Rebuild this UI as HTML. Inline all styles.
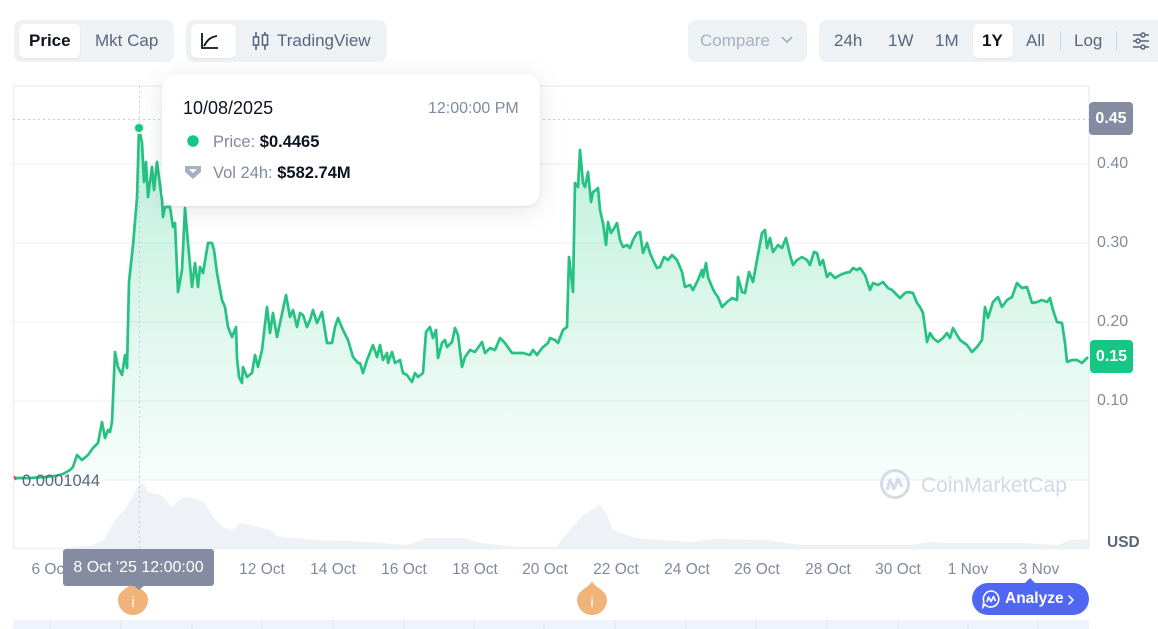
<!DOCTYPE html>
<html><head><meta charset="utf-8">
<style>
*{margin:0;padding:0;box-sizing:border-box}
body{width:1158px;height:629px;background:#fff;font-family:"Liberation Sans",sans-serif;position:relative;overflow:hidden;color:#0d1421}
.abs{position:absolute}
.grp{position:absolute;top:20px;height:42px;background:#eff2f5;border-radius:8px}
.btn{position:absolute;top:4px;height:34px;background:#fff;border-radius:6px;box-shadow:0 1px 2px rgba(0,0,0,0.06)}
.t{position:absolute;font-size:17px;line-height:18px;white-space:nowrap}
.gray{color:#58667e}
.yl{position:absolute;left:1097px;font-size:16px;color:#808a9d;line-height:18px}
.xl{position:absolute;top:561px;font-size:15.5px;color:#808a9d;line-height:18px;transform:translateX(-50%);white-space:nowrap}
</style></head><body>

<!-- toolbar group 1 -->
<div class="grp" style="left:14px;width:160px"></div>
<div class="btn" style="left:19px;top:24px;width:61px"></div>
<div class="t" style="left:29px;top:32px;font-weight:700;color:#0d1421">Price</div>
<div class="t gray" style="left:95px;top:32px">Mkt Cap</div>

<!-- toolbar group 2 -->
<div class="grp" style="left:186px;width:201px"></div>
<div class="btn" style="left:191px;top:24px;width:45px"></div>
<svg class="abs" style="left:199px;top:30px" width="22" height="22" viewBox="0 0 22 22">
<path d="M3 3 V18 H19" fill="none" stroke="#0d1421" stroke-width="1.8"/>
<path d="M5 16 C9 9 12 7 18 6" fill="none" stroke="#0d1421" stroke-width="1.8"/>
</svg>
<svg class="abs" style="left:252px;top:31px" width="18" height="20" viewBox="0 0 18 20">
<line x1="4" y1="1" x2="4" y2="19" stroke="#58667e" stroke-width="1.6"/>
<rect x="1.5" y="6" width="5" height="8" fill="#fff" stroke="#58667e" stroke-width="1.6"/>
<line x1="13" y1="1" x2="13" y2="19" stroke="#58667e" stroke-width="1.6"/>
<rect x="10.5" y="4" width="5" height="10" fill="#fff" stroke="#58667e" stroke-width="1.6"/>
</svg>
<div class="t gray" style="left:277px;top:32px">TradingView</div>

<!-- compare -->
<div class="grp" style="left:688px;width:119px"></div>
<div class="t" style="left:700px;top:32px;color:#a6b0c3">Compare</div>
<svg class="abs" style="left:780px;top:35px" width="14" height="10" viewBox="0 0 14 10"><path d="M2 2 L7 7 L12 2" fill="none" stroke="#a6b0c3" stroke-width="1.8"/></svg>

<!-- range group -->
<div class="grp" style="left:819px;width:345px"></div>
<div class="t gray" style="left:834px;top:32px">24h</div>
<div class="t gray" style="left:888px;top:32px">1W</div>
<div class="t gray" style="left:935px;top:32px">1M</div>
<div class="btn" style="left:973px;top:24px;width:40px"></div>
<div class="t" style="left:982px;top:32px;font-weight:700">1Y</div>
<div class="t gray" style="left:1026px;top:32px">All</div>
<div class="abs" style="left:1060px;top:31px;width:1px;height:20px;background:#cfd6e4"></div>
<div class="t gray" style="left:1074px;top:32px">Log</div>
<div class="abs" style="left:1116px;top:31px;width:1px;height:20px;background:#cfd6e4"></div>
<svg class="abs" style="left:1131px;top:31px" width="20" height="20" viewBox="0 0 20 20">
<g stroke="#58667e" stroke-width="1.5" fill="#eff2f5">
<line x1="2" y1="4" x2="18" y2="4"/><line x1="2" y1="10" x2="18" y2="10"/><line x1="2" y1="16" x2="18" y2="16"/>
<circle cx="12" cy="4" r="2"/><circle cx="7" cy="10" r="2"/><circle cx="12" cy="16" r="2"/>
</g></svg>

<!-- chart -->
<svg class="abs" style="left:0;top:0" width="1158" height="629" viewBox="0 0 1158 629">
<defs>
<linearGradient id="ag" x1="0" y1="0" x2="0" y2="1">
<stop offset="0" stop-color="#16c784" stop-opacity="0.28"/>
<stop offset="1" stop-color="#16c784" stop-opacity="0.03"/>
</linearGradient>
</defs>
<!-- frame -->
<line x1="13" y1="86" x2="1089" y2="86" stroke="#eceff4" stroke-width="1.5"/>
<line x1="13.5" y1="86" x2="13.5" y2="549" stroke="#eceff4" stroke-width="1.5"/>
<line x1="1089" y1="86" x2="1089" y2="549" stroke="#eceff4" stroke-width="1.5"/>
<line x1="13" y1="548.5" x2="1089" y2="548.5" stroke="#eceff4" stroke-width="1.5"/>
<!-- grid -->
<g stroke="#eff2f5" stroke-width="1.2">
<line x1="13" y1="164" x2="1089" y2="164"/>
<line x1="13" y1="243" x2="1089" y2="243"/>
<line x1="13" y1="322" x2="1089" y2="322"/>
<line x1="13" y1="401" x2="1089" y2="401"/>
<line x1="13" y1="480" x2="1089" y2="480"/>
</g>
<!-- volume -->
<polygon fill="#eef1f5" points="14,548 60,548 90,546 104,540 115,520 126,508 139,485 143,483 148,492 161,495 172,507 181,498 189,497 204,502 213,517 222,527 233,530 241,523 259,527 270,530 278,537 296,538 315,540 352,541 407,545 426,538 463,538 481,543 519,547 556,547 570,530 581,517 600,504 608,517 613,530 635,538 691,542 716,539 764,540 801,545 912,545 930,542 949,543 985,543 1022,543 1059,545 1070,540 1088,539 1088,548"/>
<!-- area -->
<polygon fill="url(#ag)" points="14,478 30,478 45,477 55,476 63,474 70,470 73,467 77,455 82,460 88,455 93,448 98,443 102,422 105,438 108,430 110,432 112,422 115,352 118,367 122,375 125,355 127,368 129,282 133,245 137,198 139,128 142,143 144,182 146,162 148,197 152,167 154,190 157,162 162,200 163,217 165,207 170,207 173,227 175,223 178,292 182,270 185,208 188,243 192,287 195,263 198,287 200,267 203,273 208,243 212,243 214,250 217,273 222,300 225,307 228,327 232,337 236,327 237,358 239,377 242,383 243,367 247,377 252,373 255,355 258,367 262,350 267,307 270,333 273,313 277,337 280,323 286,295 290,317 293,310 297,327 300,313 303,315 307,327 310,320 313,310 317,323 322,312 327,343 332,343 335,327 338,318 343,330 348,340 353,357 358,363 360,363 363,373 367,360 373,345 377,357 380,345 383,360 387,353 388,363 392,352 395,363 400,360 403,373 407,375 412,382 415,373 418,377 423,373 426,332 430,327 433,338 436,330 438,358 442,343 445,340 447,347 452,342 455,328 458,335 462,367 465,357 470,350 475,352 482,342 485,353 490,348 495,350 500,338 505,343 512,353 523,353 530,355 533,350 537,355 542,348 548,343 550,338 555,340 558,343 563,330 567,327 569,257 573,292 575,183 578,187 580,150 583,183 585,187 588,172 591,202 593,192 596,190 598,188 600,210 603,223 606,245 608,222 611,233 613,230 617,223 620,240 623,247 627,245 630,248 633,240 637,233 640,232 643,253 647,243 650,253 653,260 657,268 660,267 664,257 668,260 672,255 677,260 682,272 685,287 690,285 693,290 698,280 702,270 703,277 706,263 708,277 712,287 715,293 718,297 722,307 727,302 732,298 737,300 738,277 742,292 745,293 749,272 753,282 757,260 762,233 765,230 767,248 770,238 773,252 778,245 782,248 786,238 790,255 793,265 797,260 802,257 807,260 810,265 814,252 817,253 820,265 823,260 827,277 830,273 835,278 840,275 845,273 850,272 853,268 857,270 860,268 865,275 870,290 873,283 878,285 883,282 888,288 892,290 897,295 900,298 905,293 908,292 913,293 917,303 920,307 923,313 927,342 930,333 933,338 938,342 943,338 947,333 950,338 953,328 957,335 960,340 967,345 972,352 977,347 982,340 985,307 988,318 993,302 998,297 1002,307 1007,300 1012,297 1017,283 1022,288 1027,287 1032,303 1037,302 1042,300 1047,302 1050,298 1053,310 1057,322 1062,323 1065,343 1067,362 1072,360 1077,360 1082,363 1085,360 1088,357 1088,480 14,480"/>
<!-- crosshair -->
<line x1="13" y1="119.5" x2="1089" y2="119.5" stroke="#c6ccd8" stroke-width="1" stroke-dasharray="2,3"/>
<line x1="139.5" y1="86" x2="139.5" y2="549" stroke="#c6ccd8" stroke-width="1" stroke-dasharray="2,3"/>
<!-- watermark -->
<g>
<circle cx="895" cy="484" r="13.5" fill="none" stroke="#d5dbe6" stroke-width="3"/>
<path d="M887 490 L890 480 L894 489 L898 479 L902 487" fill="none" stroke="#d5dbe6" stroke-width="3" stroke-linejoin="round"/>
<text x="921" y="492" font-family="Liberation Sans, sans-serif" font-size="21" fill="#d3d9e4">CoinMarketCap</text>
</g>
<!-- line -->
<polyline fill="none" stroke="#26c281" stroke-width="2.7" stroke-linejoin="round" points="14,478 30,478 45,477 55,476 63,474 70,470 73,467 77,455 82,460 88,455 93,448 98,443 102,422 105,438 108,430 110,432 112,422 115,352 118,367 122,375 125,355 127,368 129,282 133,245 137,198 139,128 142,143 144,182 146,162 148,197 152,167 154,190 157,162 162,200 163,217 165,207 170,207 173,227 175,223 178,292 182,270 185,208 188,243 192,287 195,263 198,287 200,267 203,273 208,243 212,243 214,250 217,273 222,300 225,307 228,327 232,337 236,327 237,358 239,377 242,383 243,367 247,377 252,373 255,355 258,367 262,350 267,307 270,333 273,313 277,337 280,323 286,295 290,317 293,310 297,327 300,313 303,315 307,327 310,320 313,310 317,323 322,312 327,343 332,343 335,327 338,318 343,330 348,340 353,357 358,363 360,363 363,373 367,360 373,345 377,357 380,345 383,360 387,353 388,363 392,352 395,363 400,360 403,373 407,375 412,382 415,373 418,377 423,373 426,332 430,327 433,338 436,330 438,358 442,343 445,340 447,347 452,342 455,328 458,335 462,367 465,357 470,350 475,352 482,342 485,353 490,348 495,350 500,338 505,343 512,353 523,353 530,355 533,350 537,355 542,348 548,343 550,338 555,340 558,343 563,330 567,327 569,257 573,292 575,183 578,187 580,150 583,183 585,187 588,172 591,202 593,192 596,190 598,188 600,210 603,223 606,245 608,222 611,233 613,230 617,223 620,240 623,247 627,245 630,248 633,240 637,233 640,232 643,253 647,243 650,253 653,260 657,268 660,267 664,257 668,260 672,255 677,260 682,272 685,287 690,285 693,290 698,280 702,270 703,277 706,263 708,277 712,287 715,293 718,297 722,307 727,302 732,298 737,300 738,277 742,292 745,293 749,272 753,282 757,260 762,233 765,230 767,248 770,238 773,252 778,245 782,248 786,238 790,255 793,265 797,260 802,257 807,260 810,265 814,252 817,253 820,265 823,260 827,277 830,273 835,278 840,275 845,273 850,272 853,268 857,270 860,268 865,275 870,290 873,283 878,285 883,282 888,288 892,290 897,295 900,298 905,293 908,292 913,293 917,303 920,307 923,313 927,342 930,333 933,338 938,342 943,338 947,333 950,338 953,328 957,335 960,340 967,345 972,352 977,347 982,340 985,307 988,318 993,302 998,297 1002,307 1007,300 1012,297 1017,283 1022,288 1027,287 1032,303 1037,302 1042,300 1047,302 1050,298 1053,310 1057,322 1062,323 1065,343 1067,362 1072,360 1077,360 1082,363 1085,360 1088,357"/>
<line x1="14" y1="476" x2="16" y2="480" stroke="#ea3943" stroke-width="1.5"/>
<circle cx="139" cy="128" r="5" fill="#16c784" stroke="#e6f8ef" stroke-width="2"/>
<!-- bottom band -->
<rect x="13" y="620" width="1076" height="9" fill="#eff3fb"/>
<g stroke="#dfe5f2" stroke-width="1">
<line x1="50" y1="620" x2="50" y2="629"/><line x1="121" y1="620" x2="121" y2="629"/><line x1="192" y1="620" x2="192" y2="629"/><line x1="262" y1="620" x2="262" y2="629"/><line x1="333" y1="620" x2="333" y2="629"/><line x1="404" y1="620" x2="404" y2="629"/><line x1="474" y1="620" x2="474" y2="629"/><line x1="544" y1="620" x2="544" y2="629"/><line x1="615" y1="620" x2="615" y2="629"/><line x1="686" y1="620" x2="686" y2="629"/><line x1="756" y1="620" x2="756" y2="629"/><line x1="827" y1="620" x2="827" y2="629"/><line x1="898" y1="620" x2="898" y2="629"/><line x1="968" y1="620" x2="968" y2="629"/><line x1="1038" y1="620" x2="1038" y2="629"/>
</g>
<!-- info markers -->
<path d="M133 581 C136 588 148 590 148 600 A15 15 0 0 1 118 600 C118 590 130 588 133 581 Z" fill="#f0b37a"/>
<path d="M592 581 C595 588 607 590 607 600 A15 15 0 0 1 577 600 C577 590 589 588 592 581 Z" fill="#f0b37a"/>
<text x="133" y="607" text-anchor="middle" font-family="Liberation Sans, sans-serif" font-size="15" fill="#fff">i</text>
<text x="592" y="607" text-anchor="middle" font-family="Liberation Sans, sans-serif" font-size="15" fill="#fff">i</text>
</svg>

<!-- y labels -->
<div class="abs" style="left:1089px;top:102px;width:44px;height:33px;background:#858ca2;border-radius:4px;color:#fff;font-weight:700;font-size:16px;line-height:33px;text-align:center">0.45</div>
<div class="yl" style="top:155px">0.40</div>
<div class="yl" style="top:234px">0.30</div>
<div class="yl" style="top:313px">0.20</div>
<div class="yl" style="top:392px">0.10</div>
<div class="abs" style="left:1090px;top:340px;width:43px;height:33px;background:#16c784;border-radius:4px;color:#fff;font-weight:700;font-size:16px;line-height:33px;text-align:center">0.15</div>
<div class="t" style="left:22px;top:472px;color:#58667e;font-size:16.5px">0.0001044</div>
<div class="t" style="left:1107px;top:534px;color:#58667e;font-weight:700;font-size:15.5px">USD</div>

<!-- x labels -->
<div class="xl" style="left:50px">6 Oct</div>
<div class="xl" style="left:262px">12 Oct</div>
<div class="xl" style="left:333px">14 Oct</div>
<div class="xl" style="left:404px">16 Oct</div>
<div class="xl" style="left:475px">18 Oct</div>
<div class="xl" style="left:545px">20 Oct</div>
<div class="xl" style="left:616px">22 Oct</div>
<div class="xl" style="left:687px">24 Oct</div>
<div class="xl" style="left:757px">26 Oct</div>
<div class="xl" style="left:828px">28 Oct</div>
<div class="xl" style="left:898px">30 Oct</div>
<div class="xl" style="left:968px">1 Nov</div>
<div class="xl" style="left:1039px">3 Nov</div>

<!-- date box -->
<div class="abs" style="left:63px;top:549px;width:151px;height:37px;background:#858ca2;border-radius:3px;color:#fff;font-size:16px;line-height:37px;text-align:center;white-space:nowrap">8 Oct '25 12:00:00</div>
<svg class="abs" style="left:133px;top:585px" width="12" height="6"><path d="M0 0 L6 5 L12 0Z" fill="#858ca2"/></svg>

<!-- analyze -->
<svg class="abs" style="left:1024px;top:578px" width="12" height="6"><path d="M0 6 L6 0 L12 6Z" fill="#5067f4"/></svg>
<div class="abs" style="left:972px;top:583px;width:117px;height:32px;background:#5067f4;border-radius:16px"></div>
<svg class="abs" style="left:981px;top:589px" width="20" height="20" viewBox="0 0 20 20">
<path d="M10 2 A8 8 0 1 1 4 15.5 L2 18 L2.8 12.5 A8 8 0 0 1 10 2Z" fill="none" stroke="#fff" stroke-width="1.6"/>
<path d="M6 13 L7.5 8 L10 12.5 L12.5 7.5 L14.5 12" fill="none" stroke="#fff" stroke-width="1.6" stroke-linejoin="round"/>
</svg>
<div class="t" style="left:1005px;top:590px;color:#fff;font-weight:700;font-size:15.5px">Analyze</div>
<svg class="abs" style="left:1067px;top:594px" width="8" height="12"><path d="M1.5 1.5 L6 6 L1.5 10.5" fill="none" stroke="#fff" stroke-width="1.5"/></svg>

<!-- tooltip -->
<div class="abs" style="left:162px;top:74px;width:378px;height:132px;background:#fff;border-radius:14px;box-shadow:0 4px 24px rgba(88,102,126,0.16),0 1px 2px rgba(88,102,126,0.1)"></div>
<div class="t" style="left:183px;top:99px;font-size:18px;color:#0d1421">10/08/2025</div>
<div class="t" style="left:428px;top:100px;font-size:16px;color:#7f8aa0">12:00:00 PM</div>
<svg class="abs" style="left:184px;top:132px" width="18" height="18"><circle cx="9" cy="9" r="6.5" fill="#16c784" stroke="#fff" stroke-width="1.5"/></svg>
<div class="t" style="left:213px;top:133px;font-size:16.5px"><span style="color:#7f8aa0">Price: </span><b>$0.4465</b></div>
<svg class="abs" style="left:184px;top:163px" width="18" height="18" viewBox="0 0 18 18"><path d="M1 3 H17 V9 L9 16 L1 9Z" fill="#a6b0c3"/><path d="M5 6 H13 L9 10Z" fill="#fff"/></svg>
<div class="t" style="left:213px;top:164px;font-size:16.5px"><span style="color:#7f8aa0">Vol 24h: </span><b>$582.74M</b></div>

</body></html>
